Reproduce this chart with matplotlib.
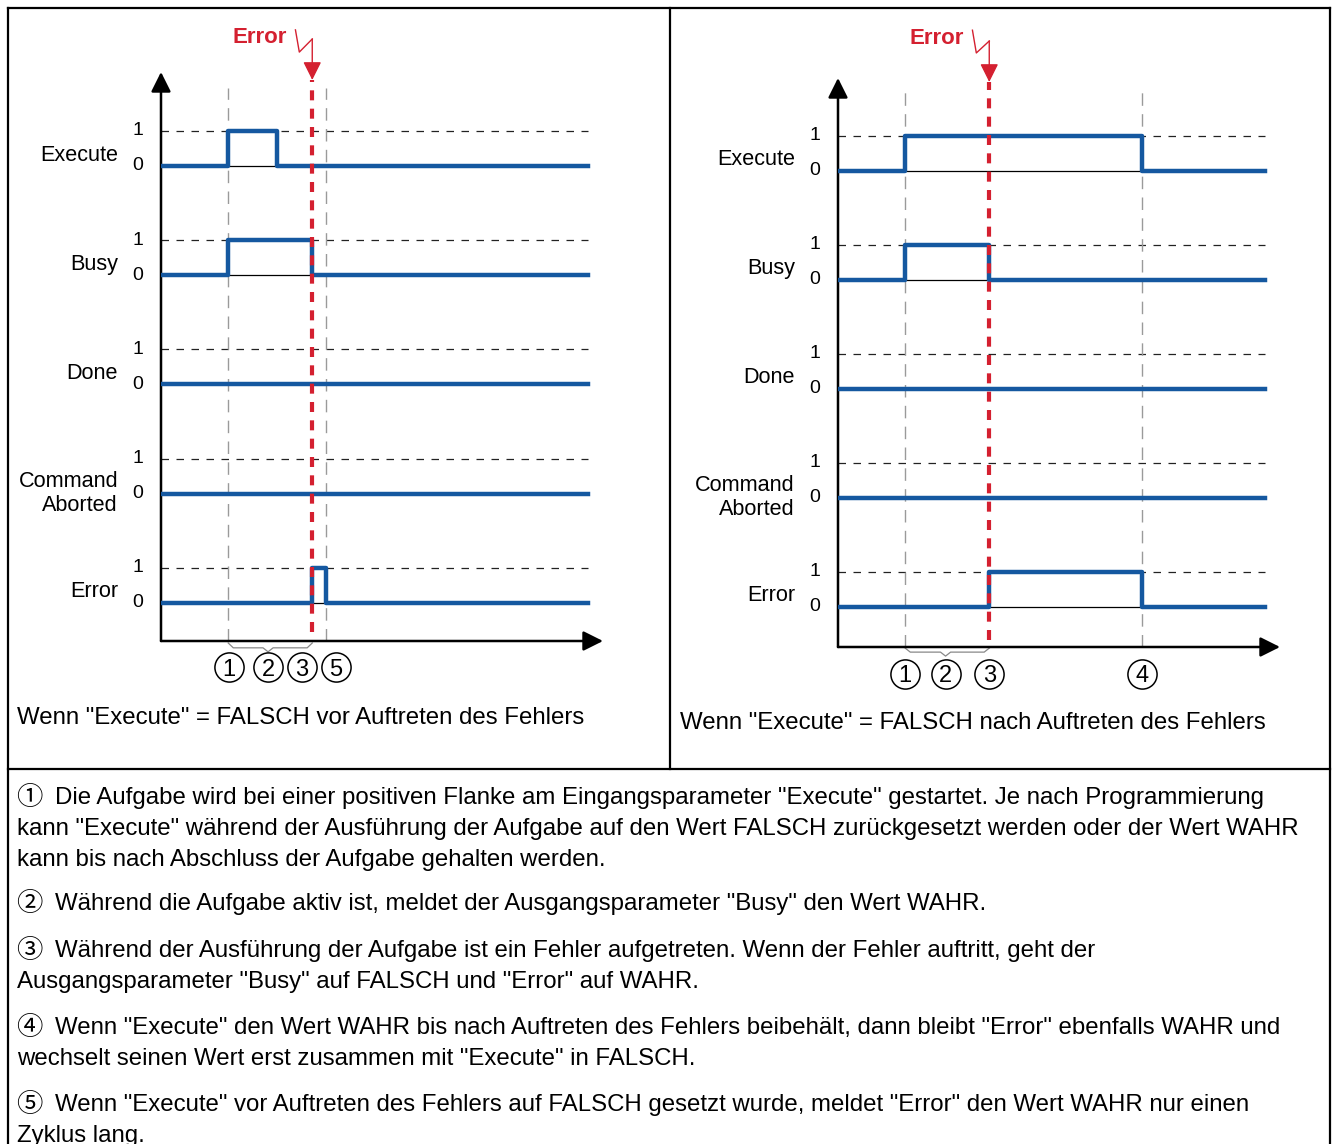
import matplotlib
matplotlib.use('Agg')
import matplotlib.pyplot as plt
import matplotlib.transforms as mtransforms

plt.rcParams['font.family'] = ['Liberation Sans', 'Noto Sans CJK SC']

W, H = 1336, 1144
blue = '#1558a0'
red = '#d42030'

# signal names, top to bottom
signals = ['Execute', 'Busy', 'Done', 'Command\nAborted', 'Error']
t_end = 25.4      # where the traces stop
t_max = 26.3      # tip of the time arrow
amp = 0.32        # height of a "1" relative to row spacing

# left diagram: Execute goes FALSE before the error
left_pulses = [[(4.0, 6.9)], [(4.0, 9.0)], [], [], [(9.0, 9.8)]]
left_err = 9.0
left_guides = [4.0, 9.8]
left_marks = ['1', '2', '3', '5']
left_mark_t = [4.05, 6.37, 8.39, 10.42]
left_caption = 'Wenn "Execute" = FALSCH vor Auftreten des Fehlers'

# right diagram: Execute stays TRUE past the error
right_pulses = [[(4.0, 18.1)], [(4.0, 9.0)], [], [], [(9.0, 18.1)]]
right_err = 9.0
right_guides = [4.0, 18.1]
right_marks = ['1', '2', '3', '4']
right_mark_t = [4.0, 6.4, 9.0, 18.1]
right_caption = 'Wenn "Execute" = FALSCH nach Auftreten des Fehlers'

note_marks = ['①', '②', '③', '④', '⑤']
notes = [
    ['Die Aufgabe wird bei einer positiven Flanke am Eingangsparameter "Execute" gestartet. Je nach Programmierung',
     'kann "Execute" während der Ausführung der Aufgabe auf den Wert FALSCH zurückgesetzt werden oder der Wert WAHR',
     'kann bis nach Abschluss der Aufgabe gehalten werden.'],
    ['Während die Aufgabe aktiv ist, meldet der Ausgangsparameter "Busy" den Wert WAHR.'],
    ['Während der Ausführung der Aufgabe ist ein Fehler aufgetreten. Wenn der Fehler auftritt, geht der',
     'Ausgangsparameter "Busy" auf FALSCH und "Error" auf WAHR.'],
    ['Wenn "Execute" den Wert WAHR bis nach Auftreten des Fehlers beibehält, dann bleibt "Error" ebenfalls WAHR und',
     'wechselt seinen Wert erst zusammen mit "Execute" in FALSCH.'],
    ['Wenn "Execute" vor Auftreten des Fehlers auf FALSCH gesetzt wurde, meldet "Error" den Wert WAHR nur einen',
     'Zyklus lang.'],
]
note_y = [804, 910, 957, 1034, 1111]
text_size = 17.3

fig = plt.figure(figsize=(W / 100, H / 100), dpi=100)

# overlay in pixel coordinates for frame and free text
ov = fig.add_axes([0, 0, 1, 1])
ov.set_xlim(0, W)
ov.set_ylim(H, 0)
ov.axis('off')
for xs, ys in [([8, 1330], [8, 8]), ([8, 8], [8, H]), ([1330, 1330], [8, H]),
               ([670, 670], [8, 769]), ([8, 1330], [769, 769])]:
    ov.plot(xs, ys, color='black', lw=1.6, solid_capstyle='projecting')

ov.text(17, 724, left_caption, fontsize=text_size, va='baseline')
ov.text(680, 729, right_caption, fontsize=text_size, va='baseline')
for mk, para, y in zip(note_marks, notes, note_y):
    ov.text(16, y + 1, mk, fontsize=19, va='baseline')
    for k, line in enumerate(para):
        ov.text(55 if k == 0 else 17, y + 31 * k, line, fontsize=text_size,
                va='baseline')


def panel(box, pulses, err, guides, marks, mark_t, ylim, guide_top, red_span,
          bolt_y, text_y, mark_y, brace_y):
    x0, y0, x1, y1 = box
    ax = fig.add_axes([x0 / W, 1 - y1 / H, (x1 - x0) / W, (y1 - y0) / H])
    ax.set_xlim(0, t_max)
    ax.set_ylim(*ylim)
    ax.axis('off')
    ax.patch.set_alpha(0)
    bt = mtransforms.blended_transform_factory(ax.transData, ax.transAxes)

    # axes arrows
    for tip in [(0, 1), (1, 0)]:
        ax.annotate('', xy=tip, xytext=(0, 0), xycoords='axes fraction',
                    arrowprops=dict(arrowstyle='-|>', color='black', lw=1.8,
                                    mutation_scale=30, shrinkA=0, shrinkB=0))

    for i, (name, pl) in enumerate(zip(signals, pulses)):
        base = 4 - i
        ax.plot([0, t_end], [base + amp] * 2, color='#222222', lw=0.9,
                dashes=(6, 6), zorder=1)
        xs, ys = [0], [base]
        for r, f in pl:
            xs += [r, r, f, f]
            ys += [base, base + amp, base + amp, base]
            ax.plot([r, f], [base, base], color='black', lw=0.9, zorder=2)
        xs.append(t_end)
        ys.append(base)
        ax.plot(xs, ys, color=blue, lw=3.2, zorder=4)
        dy = 0.0 if '\n' in name else 0.1
        ax.annotate(name, xy=(0, base + dy), xycoords=('axes fraction', 'data'),
                    xytext=(-43, 0), textcoords='offset pixels', ha='right',
                    va='center', fontsize=15.6, linespacing=1.15)
        for lv, txt in [(base + amp, '1'), (base, '0')]:
            ax.annotate(txt, xy=(0, lv), xycoords=('axes fraction', 'data'),
                        xytext=(-23, 0), textcoords='offset pixels',
                        ha='center', va='center', fontsize=14)

    for g in guides:
        ax.plot([g, g], [0, guide_top], transform=bt, color='#9a9a9a', lw=1,
                dashes=(9, 6), zorder=1)

    # error marker
    ax.plot([err, err], red_span, transform=bt, color=red, lw=3,
            dashes=(2.4, 2), zorder=5)
    ax.plot([err - 1.0, err - 0.77, err], bolt_y[:3], transform=bt, color=red,
            lw=1, clip_on=False)
    ax.annotate('', xy=(err, bolt_y[3]), xytext=(err, bolt_y[2]), xycoords=bt,
                arrowprops=dict(arrowstyle='-|>', color=red, lw=1,
                                mutation_scale=28, shrinkA=0, shrinkB=0))
    ax.text(err - 3.1, text_y, 'Error', transform=bt, color=red,
            fontweight='bold', fontsize=16, ha='center', va='center')

    # brace from start to error
    tip = mark_t[1]
    a, b, c = brace_y
    ax.plot([guides[0], guides[0] + 0.3, tip - 0.3, tip, tip + 0.3, err - 0.3, err],
            [a, b, b, c, b, b, a], transform=bt, color='#888888', lw=0.9,
            clip_on=False)

    # numbered circles
    for t, m in zip(mark_t, marks):
        ax.plot([t], [mark_y], transform=bt, marker='o', ms=21, mfc='white',
                mec='black', mew=1.1, ls='none', clip_on=False)
        ax.text(t, mark_y, m, transform=bt, ha='center', va='center_baseline',
                fontsize=17)
    return ax


panel((161, 72, 603, 641), left_pulses, left_err, left_guides, left_marks,
      left_mark_t, (-0.35, 4.86), 0.972, (0.016, 0.986),
      (1.074, 1.035, 1.058, 0.986), 1.061, -0.046, (-0.0035, -0.012, -0.019))
panel((838, 78, 1280, 647), right_pulses, right_err, right_guides, right_marks,
      right_mark_t, (-0.37, 4.85), 0.975, (0.012, 0.993),
      (1.084, 1.044, 1.065, 0.993), 1.07, -0.047, (-0.002, -0.009, -0.016))

fig.savefig('out.png', dpi=100)
